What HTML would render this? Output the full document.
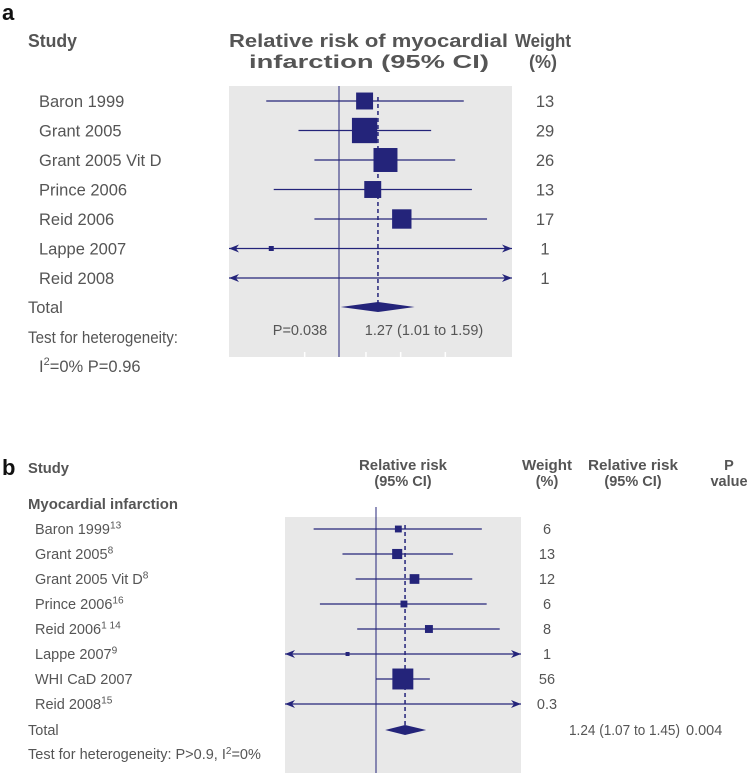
<!DOCTYPE html>
<html><head><meta charset="utf-8"><style>
html,body{margin:0;padding:0;background:#fff;}
svg{display:block;font-family:"Liberation Sans",sans-serif;}
.h{font-weight:bold;fill:#555;}
.t{fill:#555;}
</style></head><body>
<svg id="chart" width="749" height="773" viewBox="0 0 749 773" xmlns="http://www.w3.org/2000/svg">
<text x="2" y="20" font-size="22" font-weight="bold" fill="#111">a</text>
<rect x="229" y="86" width="283" height="271" fill="#e8e8e8"/>
<g class="h" font-size="18">
<text x="28" y="47" textLength="49" lengthAdjust="spacingAndGlyphs">Study</text>
<text x="229" y="47" textLength="279" lengthAdjust="spacingAndGlyphs">Relative risk of myocardial</text>
<text x="249" y="68" textLength="240" lengthAdjust="spacingAndGlyphs">infarction (95% CI)</text>
<text x="515" y="47" textLength="56" lengthAdjust="spacingAndGlyphs">Weight</text>
<text x="543" y="68" text-anchor="middle">(%)</text>
</g>
<g id="ga"></g>
<g class="t" font-size="16.5">
<text x="28" y="313">Total</text>
<text x="28" y="343" textLength="150" lengthAdjust="spacingAndGlyphs">Test for heterogeneity:</text>
<text x="39" y="372">I<tspan font-size="11" dy="-7">2</tspan><tspan dy="7">=0% P=0.96</tspan></text>
<text x="300" y="335" text-anchor="middle" font-size="14.5">P=0.038</text>
<text x="424" y="335" text-anchor="middle" font-size="14.5">1.27 (1.01 to 1.59)</text>
</g>

<text x="2" y="475" font-size="22" font-weight="bold" fill="#111">b</text>
<rect x="285" y="517" width="236" height="256" fill="#e8e8e8"/>
<g class="h" font-size="14.5">
<text x="28" y="473" textLength="41" lengthAdjust="spacingAndGlyphs">Study</text>
<text x="28" y="509" textLength="150" lengthAdjust="spacingAndGlyphs">Myocardial infarction</text>
<text x="359" y="470" textLength="88" lengthAdjust="spacingAndGlyphs">Relative risk</text>
<text x="403" y="486" text-anchor="middle">(95% CI)</text>
<text x="522" y="470" textLength="50" lengthAdjust="spacingAndGlyphs">Weight</text>
<text x="547" y="486" text-anchor="middle">(%)</text>
<text x="588" y="470" textLength="90" lengthAdjust="spacingAndGlyphs">Relative risk</text>
<text x="633" y="486" text-anchor="middle">(95% CI)</text>
<text x="729" y="470" text-anchor="middle">P</text>
<text x="729" y="486" text-anchor="middle">value</text>
</g>
<g id="gb"></g>
<g class="t" font-size="14.5">
<text x="28" y="735">Total</text>
<text x="569" y="735" textLength="111" lengthAdjust="spacingAndGlyphs">1.24 (1.07 to 1.45)</text>
<text x="686" y="735">0.004</text>
<text x="28" y="759">Test for heterogeneity: P&gt;0.9, I<tspan font-size="10" dy="-5">2</tspan><tspan dy="5">=0%</tspan></text>
</g>
</svg>
<script>
// Panel a data
const aStudies=["Baron 1999","Grant 2005","Grant 2005 Vit D","Prince 2006","Reid 2006","Lappe 2007","Reid 2008"];
const aRR=[1.17,1.17,1.33,1.23,1.47,0.66,null];
const aLo=[0.64,0.78,0.86,0.67,0.86,0.1,0.1];
const aHi=[2.15,1.76,2.04,2.26,2.48,10,10];
const aWeights=[13,29,26,13,17,1,1];
const aPooled=[1.27,1.01,1.59];
// Panel b data
const bStudies=["Baron 1999","Grant 2005","Grant 2005 Vit D","Prince 2006","Reid 2006","Lappe 2007","WHI CaD 2007","Reid 2008"];
const bSup=["13","8","8","16","1 14","9","","15"];
const bRR=[1.18,1.17,1.33,1.23,1.48,0.81,1.22,null];
const bLo=[0.63,0.78,0.86,0.66,0.87,0.1,1.0,0.1];
const bHi=[2.19,1.77,2.04,2.27,2.5,10,1.49,10];
const bWeights=["6","13","12","6","8","1","56","0.3"];
const bPooled=[1.24,1.07,1.45];

const NS="http://www.w3.org/2000/svg";
const NAVY="#24247a";
function mk(tag,attrs,parent){const e=document.createElementNS(NS,tag);for(const k in attrs)e.setAttribute(k,attrs[k]);parent.appendChild(e);return e;}

function drawPanel(g,cfg){
  const x=v=>cfg.x1+Math.log(v)*cfg.k;
  const clamp=v=>Math.max(cfg.left,Math.min(cfg.right,v));
  let l=mk('line',{x1:x(1),x2:x(1),y1:cfg.lineTop,y2:cfg.bottom,stroke:NAVY,'stroke-width':1},g);
  
  
  const xp=x(cfg.pooled[0]);
  let d=mk('line',{x1:xp,x2:xp,y1:cfg.rowY(0)-4,y2:cfg.diamondY,stroke:NAVY,'stroke-width':1.5,'stroke-dasharray':'4,3'},g);
  
  
  cfg.studies.forEach((s,i)=>{
    const y=cfg.rowY(i);
    const lo=x(cfg.lo[i]),hi=x(cfg.hi[i]);
    const x1=clamp(lo),x2=clamp(hi);
    const ci=mk('line',{x1:x1,x2:x2,y1:y,y2:y,stroke:NAVY,'stroke-width':1.3},g);
    
    
    if(lo<cfg.left){const a=mk('path',{d:`M${x1},${y}l10,-4l-3,4l3,4z`,fill:NAVY},g);
      
      }
    if(hi>cfg.right){const a=mk('path',{d:`M${x2},${y}l-10,-4l3,4l-3,4z`,fill:NAVY},g);
      
      }
    if(cfg.rr[i]!=null){
      const sz=Math.max(cfg.minSz,Math.sqrt(parseFloat(cfg.w[i]))*cfg.sk);
      const r=mk('rect',{x:x(cfg.rr[i])-sz/2,y:y-sz/2,width:sz,height:sz,fill:NAVY},g);
      
      
    }
    const t=mk('text',{x:cfg.labelX,y:y+cfg.fs*0.36,'font-size':cfg.fs,fill:'#555'},g);
    t.textContent=s;
    if(cfg.sup&&cfg.sup[i]){const ts=mk('tspan',{'font-size':cfg.fs*0.7,dy:-cfg.fs*0.4},t);ts.textContent=cfg.sup[i];}
    
    
    const wt=mk('text',{x:cfg.wX,y:y+cfg.fs*0.36,'font-size':cfg.fs,fill:'#555','text-anchor':'middle'},g);
    wt.textContent=cfg.w[i];
    
    
  });
  const dy=cfg.diamondY,dl=x(cfg.pooled[1]),dh=x(cfg.pooled[2]);
  const dm=mk('path',{d:`M${dl},${dy}L${xp},${dy-cfg.dh}L${dh},${dy}L${xp},${dy+cfg.dh}Z`,fill:NAVY},g);
  
  
  (cfg.ticks||[]).forEach((tv,i)=>{
    const tk=mk('line',{x1:x(tv),x2:x(tv),y1:cfg.bottom-5,y2:cfg.bottom,stroke:'#fff','stroke-width':1.5},g);
    
    
  });
}
const aTicks=[0.81,1.18,1.46,1.92];
drawPanel(document.getElementById('ga'),{x1:339,k:163,left:229,right:512,top:86,lineTop:86,bottom:357,
  rowY:i=>101+i*29.5,diamondY:307,dh:5,studies:aStudies,rr:aRR,lo:aLo,hi:aHi,w:aWeights,
  pooled:aPooled,sk:4.7,minSz:5,labelX:39,fs:16.5,wX:545,ticks:aTicks});
drawPanel(document.getElementById('gb'),{x1:376,k:135,left:285,right:521,top:517,lineTop:507,bottom:773,
  rowY:i=>529+i*25,diamondY:730,dh:5,studies:bStudies,sup:bSup,rr:bRR,lo:bLo,hi:bHi,w:bWeights,
  pooled:bPooled,sk:2.8,minSz:4,labelX:35,fs:14.5,wX:547});
</script>
</body></html>
